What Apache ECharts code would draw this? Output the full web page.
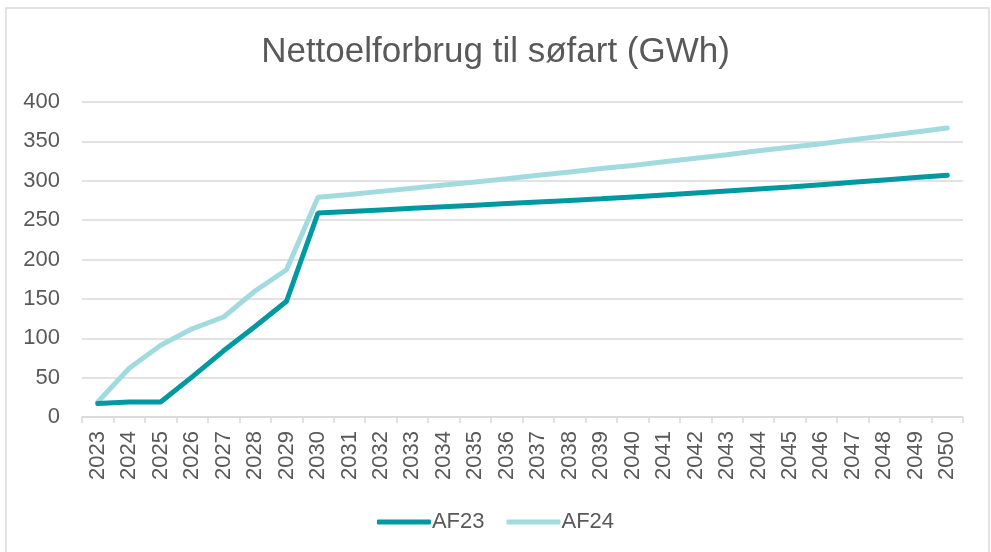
<!DOCTYPE html>
<html>
<head>
<meta charset="utf-8">
<script src="https://cdn.jsdelivr.net/npm/echarts@6/dist/echarts.min.js"></script>
<style>
  html, body { margin: 0; padding: 0; background: #fff; }
  #main { width: 991px; height: 552px; }
</style>
</head>
<body>
<div id="main"></div>
<script>
var years = [];
for (var y = 2023; y <= 2050; y++) years.push(String(y));

var af23 = [17, 19, 19, 51, 84, 115, 147, 259, 261, 263, 265, 267, 269, 271, 273, 275,
            277, 279.5, 282, 284.5, 287, 289.5, 292, 295, 298, 301, 304, 307];
var af24 = [19, 62, 91, 112, 127, 160, 187, 279, 282.5, 286.5, 290.5, 294.5, 298.5, 302.5,
            307, 311, 315.5, 319.5, 324, 328.5, 333, 338, 342.5, 347, 352, 357, 362, 367];

var yTicks = [0, 50, 100, 150, 200, 250, 300, 350, 400];

var chart = echarts.init(document.getElementById('main'));

var option = {
    animation: false,
    backgroundColor: '#fff',
    graphic: [{
        type: 'rect',
        shape: { x: 6, y: 8, width: 983, height: 600 },
        style: { fill: 'none', stroke: '#d9d9d9', lineWidth: 1.5 },
        silent: true
    }],
    title: {
        text: 'Nettoelforbrug til søfart (GWh)',
        left: 'center',
        top: 30,
        textStyle: {
            fontFamily: 'Liberation Sans',
            fontSize: 35,
            fontWeight: 'normal',
            color: '#595959'
        }
    },
    legend: {
        bottom: 14,
        left: 'center',
        itemWidth: 54,
        itemHeight: 5,
        itemGap: 22,
        icon: 'roundRect',
        textStyle: { fontFamily: 'Liberation Sans', fontSize: 22, color: '#595959', padding: [0, 0, 0, -4] },
        data: ['AF23', 'AF24']
    },
    grid: {
        left: 82,
        right: 28,
        top: 102,
        bottom: 135
    },
    xAxis: {
        type: 'category',
        data: years,
        boundaryGap: true,
        axisLine: { lineStyle: { color: '#d9d9d9', width: 1.5 } },
        axisTick: { show: true, length: 6, lineStyle: { color: '#d9d9d9', width: 1.5 } },
        axisLabel: {
            rotate: 90,
            interval: 0,
            margin: 14,
            fontFamily: 'Liberation Sans',
            fontSize: 22,
            color: '#595959'
        }
    },
    yAxis: {
        type: 'value',
        min: yTicks[0],
        max: yTicks[yTicks.length - 1],
        interval: 50,
        axisLine: { show: false },
        axisTick: { show: false },
        splitLine: { lineStyle: { color: '#d9d9d9', width: 1.5 } },
        axisLabel: {
            margin: 22,
            fontFamily: 'Liberation Sans',
            fontSize: 22,
            color: '#595959'
        }
    },
    series: [{
        name: 'AF23',
        type: 'line',
        data: af23,
        symbol: 'none',
        z: 3,
        color: '#0099a1',
        lineStyle: { width: 5, color: '#0099a1', cap: 'round' }
    }, {
        name: 'AF24',
        type: 'line',
        data: af24,
        symbol: 'none',
        z: 2,
        color: '#a2dbdf',
        lineStyle: { width: 5, color: '#a2dbdf', cap: 'round' }
    }]
};

chart.setOption(option);
</script>
</body>
</html>
